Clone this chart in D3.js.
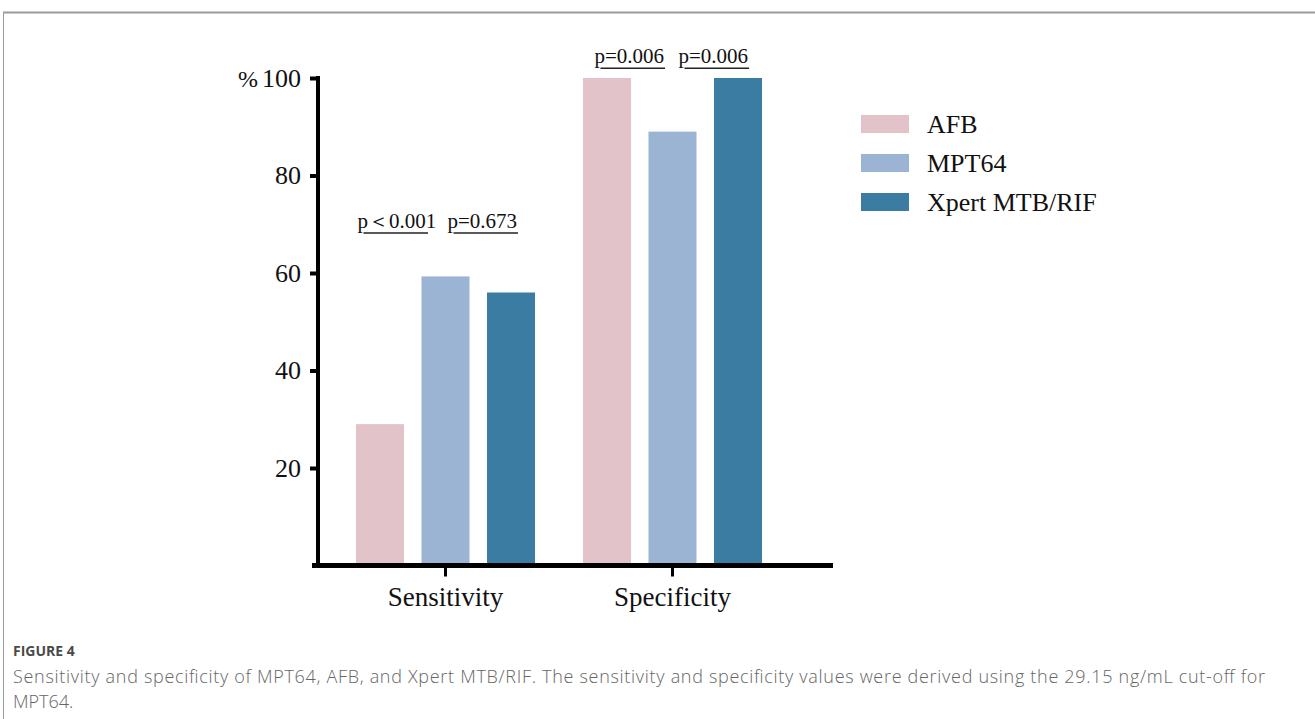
<!DOCTYPE html>
<html>
<head>
<meta charset="utf-8">
<script src="https://cdn.jsdelivr.net/npm/d3@7"></script>
<style>
  body { margin: 0; background: #fff; }
  .cap-title { font-family: "Open Sans", sans-serif; font-size: 14px; font-weight: bold; fill: #4a4a4a; }
  .cap-text { font-family: "Open Sans", sans-serif; font-size: 18px; font-weight: 300; fill: #666; }
  .serif { font-family: "Liberation Serif", "Times New Roman", serif; fill: #111; }
</style>
</head>
<body>
<div id="app"></div>
<script>
// data
const categories = ['Sensitivity', 'Specificity']
const series = ['AFB', 'MPT64', 'Xpert MTB/RIF']
const sensitivity = [29.0, 59.3, 56.0]
const specificity = [100, 89.0, 100]
const yTicks = [20, 40, 60, 80, 100]
const colors = ['#e2c3ca', '#9bb4d3', '#3a7ca2']

// p value brackets: category, left series, right series, label
const annCat = ['Sensitivity', 'Sensitivity', 'Specificity', 'Specificity']
const annFrom = ['AFB', 'MPT64', 'AFB', 'MPT64']
const annTo = ['MPT64', 'Xpert MTB/RIF', 'MPT64', 'Xpert MTB/RIF']
const annLabel = ['p\uFF1C0.001', 'p=0.673', 'p=0.006', 'p=0.006']

const rows = categories.map((c, i) => ({
  cat: c,
  vals: series.map((s, j) => ({ s: s, v: i === 0 ? sensitivity[j] : specificity[j] }))
}))

const W = 1315, H = 719
const svg = d3.select('#app').append('svg').attr('width', W).attr('height', H)

// page frame
svg.append('line').attr('x1', 3).attr('x2', W).attr('y1', 12.5).attr('y2', 12.5)
  .attr('stroke', '#9a9a9a').attr('stroke-width', 2)
svg.append('line').attr('x1', 3.5).attr('x2', 3.5).attr('y1', 12).attr('y2', H)
  .attr('stroke', '#9a9a9a').attr('stroke-width', 1)

const y = d3.scaleLinear().domain([0, 100]).range([565.5, 78])
const x0 = d3.scaleBand().domain(categories).range([332, 786])
const x1 = d3.scaleBand().domain(series).range([0, x0.bandwidth()])
  .paddingInner(0.267).paddingOuter(0.366)
const color = d3.scaleOrdinal().domain(series).range(colors)

// bars
const groups = svg.selectAll('g.grp').data(rows).enter().append('g')
  .attr('class', 'grp')
  .attr('transform', d => `translate(${x0(d.cat)},0)`)

groups.selectAll('rect').data(d => d.vals).enter().append('rect')
  .attr('x', d => x1(d.s))
  .attr('y', d => y(d.v))
  .attr('width', x1.bandwidth())
  .attr('height', d => y(0) - y(d.v))
  .attr('fill', d => color(d.s))

// y axis
const yAxis = svg.append('g').attr('transform', 'translate(318,0)')
  .call(d3.axisLeft(y).tickValues(yTicks).tickSize(8).tickPadding(9).tickFormat(d => d))
yAxis.select('.domain').remove()
yAxis.append('line').attr('x1', 0).attr('x2', 0).attr('y1', y(100) - 2).attr('y2', y(0) + 2)
  .attr('stroke', '#000').attr('stroke-width', 4)
yAxis.selectAll('.tick line').attr('stroke', '#000').attr('stroke-width', 4)
yAxis.selectAll('.tick text').attr('class', 'serif').attr('font-size', 26).attr('fill', '#111')
yAxis.selectAll('.tick').filter(d => d === 100).select('text')
  .text(null)
  .call(t => {
    t.append('tspan').attr('font-size', 24).text('%')
    t.append('tspan').attr('dx', 4).text('100')
  })

// x axis
const xAxis = svg.append('g').attr('transform', `translate(0,${y(0)})`)
  .call(d3.axisBottom(x0).tickSize(11).tickPadding(10))
xAxis.select('.domain').remove()
xAxis.append('line').attr('x1', 312).attr('x2', 833).attr('y1', 0).attr('y2', 0)
  .attr('stroke', '#000').attr('stroke-width', 5)
xAxis.selectAll('.tick line').attr('stroke', '#000').attr('stroke-width', 3)
xAxis.selectAll('.tick text').attr('class', 'serif').attr('font-size', 27).attr('fill', '#111')

// p value brackets
const annLevel = { Sensitivity: 68.2, Specificity: 102 }
const annShift = [-16.5, 8, -6.5, 12]
annLabel.forEach((lab, i) => {
  const cx = x0(annCat[i])
  const a = cx + x1(annFrom[i]) + x1.bandwidth() / 2 + annShift[i]
  const b = cx + x1(annTo[i]) + x1.bandwidth() / 2 + annShift[i]
  const ly = y(annLevel[annCat[i]])
  svg.append('line').attr('x1', a).attr('x2', b - 1).attr('y1', ly).attr('y2', ly)
    .attr('stroke', '#222').attr('stroke-width', 1.6)
  svg.append('text').attr('class', 'serif').attr('x', a - 6).attr('y', ly - 5)
    .attr('font-size', 21).text(lab)
})

// legend
const legend = svg.append('g').attr('transform', 'translate(861,115)')
const li = legend.selectAll('g').data(series).enter().append('g')
  .attr('transform', (d, i) => `translate(0,${i * 39})`)
li.append('rect').attr('width', 48).attr('height', 18).attr('fill', d => color(d))
li.append('text').attr('class', 'serif').attr('x', 66).attr('y', 18)
  .attr('font-size', 26).text(d => d)

// caption
svg.append('text').attr('class', 'cap-title').attr('x', 13).attr('y', 656).text('FIGURE 4')
svg.append('text').attr('class', 'cap-text').attr('x', 13).attr('y', 683)
  .attr('textLength', 1252).attr('lengthAdjust', 'spacing')
  .text('Sensitivity and specificity of MPT64, AFB, and Xpert MTB/RIF. The sensitivity and specificity values were derived using the 29.15 ng/mL cut-off for')
svg.append('text').attr('class', 'cap-text').attr('x', 13).attr('y', 708).text('MPT64.')
</script>
</body>
</html>
